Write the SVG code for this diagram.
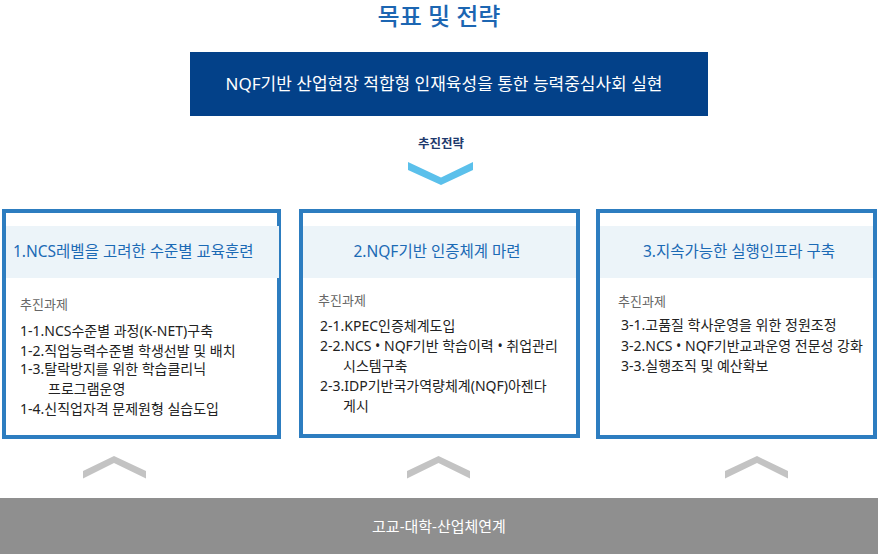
<svg xmlns="http://www.w3.org/2000/svg" width="878" height="554" viewBox="0 0 878 554">
<style>
  text { font-family: "Noto Sans", "Noto Sans CJK KR", sans-serif; }
  .box { fill: #ffffff; stroke: #2d7dc0; stroke-width: 4; }
  .band { fill: #ecf4f9; }
  .head { font-size: 15.5px; fill: #1b6ab5; }
  .sub { font-size: 13px; fill: #666666; }
  .item { font-size: 14px; fill: #222222; }
  .chev-up { fill: #c3c3c3; }
</style>
<rect width="878" height="554" fill="#ffffff"/>
<g id="title">
  <text x="439" y="25" text-anchor="middle" font-size="24" font-weight="500" fill="#1c66b2">목표 및 전략</text>
</g>
<g id="goal">
  <rect x="190" y="52" width="518" height="64" fill="#034189"/>
  <text x="444" y="90" text-anchor="middle" font-size="17" fill="#ffffff">NQF기반 산업현장 적합형 인재육성을 통한 능력중심사회 실현</text>
</g>
<g id="strategy-label">
  <text x="441" y="148" text-anchor="middle" font-size="12.5" font-weight="bold" fill="#1e3a6d">추진전략</text>
</g>
<g id="connectors">
  <polygon points="408,162 441,177.5 473,162 473,170 441,185 408,170" fill="#5bc0eb"/>
  <polygon class="chev-up" points="83,471 114,456 146,471 146,478.5 114,463 83,478.5"/>
  <polygon class="chev-up" points="407,471 438.5,456 470,471 470,478.5 438.5,463 407,478.5"/>
  <polygon class="chev-up" points="725,471 757,456 788,471 788,478.5 757,463 725,478.5"/>
</g>
<g id="box1">
  <rect class="box" x="4" y="211" width="275" height="226"/>
  <rect class="band" x="6" y="226" width="273" height="52"/>
  <text class="head" x="13" y="257">1.NCS레벨을 고려한 수준별 교육훈련</text>
  <text class="sub" x="20" y="309">추진과제</text>
  <text class="item" x="20" y="336">1-1.NCS수준별 과정(K-NET)구축</text>
  <text class="item" x="20" y="355.5">1-2.직업능력수준별 학생선발 및 배치</text>
  <text class="item" x="20" y="374">1-3.탈락방지를 위한 학습클리닉</text>
  <text class="item" x="48" y="394">프로그램운영</text>
  <text class="item" x="20" y="414">1-4.신직업자격 문제원형 실습도입</text>
</g>
<g id="box2">
  <rect class="box" x="301" y="211" width="277" height="225"/>
  <rect class="band" x="303" y="226" width="273" height="52"/>
  <text class="head" x="437" y="257" text-anchor="middle">2.NQF기반 인증체계 마련</text>
  <text class="sub" x="318" y="305">추진과제</text>
  <text class="item" x="320" y="330.5">2-1.KPEC인증체계도입</text>
  <text class="item" x="320" y="351">2-2.NCS • NQF기반 학습이력 • 취업관리</text>
  <text class="item" x="343" y="370.5">시스템구축</text>
  <text class="item" x="320" y="391">2-3.IDP기반국가역량체계(NQF)아젠다</text>
  <text class="item" x="343" y="410.5">게시</text>
</g>
<g id="box3">
  <rect class="box" x="598" y="211" width="277" height="226"/>
  <rect class="band" x="600" y="226" width="273" height="52"/>
  <text class="head" x="739" y="257" text-anchor="middle">3.지속가능한 실행인프라 구축</text>
  <text class="sub" x="618" y="306">추진과제</text>
  <text class="item" x="621" y="330">3-1.고품질 학사운영을 위한 정원조정</text>
  <text class="item" x="621" y="350.5">3-2.NCS • NQF기반교과운영 전문성 강화</text>
  <text class="item" x="621" y="370.5">3-3.실행조직 및 예산확보</text>
</g>
<g id="foundation">
  <rect x="0" y="498" width="878" height="56" fill="#8f8f8f"/>
  <text x="439" y="532" text-anchor="middle" font-size="15" fill="#ffffff">고교-대학-산업체연계</text>
</g>
</svg>
